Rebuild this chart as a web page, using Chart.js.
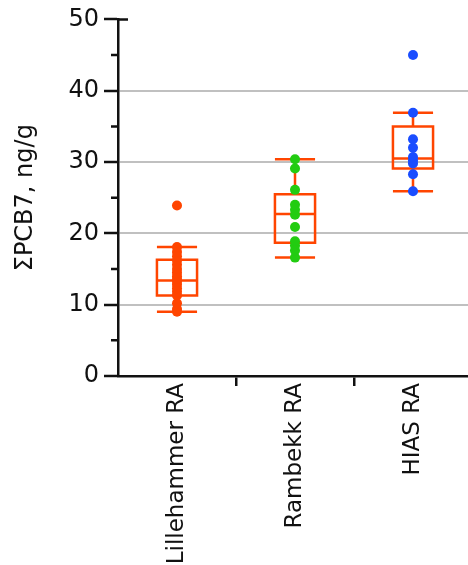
<!DOCTYPE html>
<html>
<head>
<meta charset="utf-8">
<script src="https://cdn.jsdelivr.net/npm/chart.js@4"></script>
<style>
  html, body { margin: 0; padding: 0; background: #fff; overflow: hidden; }
  #wrap { width: 477px; height: 565px; }
</style>
</head>
<body>
<div id="wrap"><canvas id="chart" width="477" height="565"></canvas></div>
<script>
const categories = ["Lillehammer RA", "Rambekk RA", "HIAS RA"];

// individual samples, ng/g
const lillehammer = [9.0, 9.4, 10.2, 11.3, 11.8, 12.3, 12.8, 13.2, 13.6, 14.0, 14.5, 15.0, 15.6, 16.2, 16.8, 17.4, 18.1, 23.9];
const rambekk = [16.6, 17.6, 18.3, 18.9, 20.9, 22.6, 23.3, 24.0, 26.1, 29.1, 30.4];
const hias = [25.9, 28.3, 29.8, 30.2, 30.7, 32.0, 33.2, 36.9, 45.0];

// box statistics per category
const whiskerLow = [9.0, 16.6, 25.9];
const quartile1 = [11.3, 18.7, 29.1];
const medians = [13.4, 22.7, 30.5];
const quartile3 = [16.3, 25.5, 35.0];
const whiskerHigh = [18.1, 30.4, 36.9];

const yMin = 0;
const yMax = 50;
const yStep = 10;
const minorTicks = [5, 15, 25, 35, 45];

const boxColor = "#ff4500";
const pointColors = ["#ff4500", "#22cc11", "#1a4dff"];
const axisColor = "#111";
const fontFamily = "'DejaVu Sans', sans-serif";

const toPoints = (vals, i) => vals.map((v) => ({ x: categories[i], y: v }));

const boxPlugin = {
  id: "boxes",
  beforeDatasetsDraw(chart) {
    const { ctx, scales: { x, y } } = chart;
    const half = (x.getPixelForValue(1) - x.getPixelForValue(0)) * 0.17;
    const py = (v) => y.getPixelForValue(v);
    ctx.save();
    ctx.strokeStyle = boxColor;
    ctx.lineWidth = 2.5;
    categories.forEach((c, i) => {
      const cx = x.getPixelForValue(i);
      ctx.beginPath();
      ctx.rect(cx - half, py(quartile3[i]), 2 * half, py(quartile1[i]) - py(quartile3[i]));
      ctx.moveTo(cx - half, py(medians[i]));
      ctx.lineTo(cx + half, py(medians[i]));
      ctx.moveTo(cx, py(quartile3[i]));
      ctx.lineTo(cx, py(whiskerHigh[i]));
      ctx.moveTo(cx, py(quartile1[i]));
      ctx.lineTo(cx, py(whiskerLow[i]));
      ctx.moveTo(cx - half, py(whiskerHigh[i]));
      ctx.lineTo(cx + half, py(whiskerHigh[i]));
      ctx.moveTo(cx - half, py(whiskerLow[i]));
      ctx.lineTo(cx + half, py(whiskerLow[i]));
      ctx.stroke();
    });
    ctx.restore();
  },
  afterDraw(chart) {
    const { ctx, scales: { y } } = chart;
    const ax = y.right;
    ctx.save();
    ctx.strokeStyle = axisColor;
    ctx.lineWidth = 2.5;
    ctx.beginPath();
    minorTicks.forEach((v) => {
      const p = y.getPixelForValue(v);
      ctx.moveTo(ax - 7, p);
      ctx.lineTo(ax, p);
    });
    const top = y.getPixelForValue(yMax);
    ctx.moveTo(ax, top);
    ctx.lineTo(ax + 10, top);
    ctx.stroke();
    ctx.restore();
  }
};

new Chart(document.getElementById("chart"), {
  type: "line",
  data: {
    labels: categories,
    datasets: [lillehammer, rambekk, hias].map((vals, i) => ({
      data: toPoints(vals, i),
      showLine: false,
      pointRadius: 5,
      pointBorderWidth: 0,
      pointBackgroundColor: pointColors[i],
      pointBorderColor: pointColors[i]
    }))
  },
  options: {
    responsive: false,
    animation: false,
    layout: { padding: { top: 17, right: 0, left: 0, bottom: 0 } },
    plugins: { legend: { display: false }, tooltip: { enabled: false } },
    scales: {
      x: {
        type: "category",
        offset: true,
        afterFit: (s) => { s.height = 189; },
        border: { display: true, color: axisColor, width: 2.5 },
        grid: {
          offset: true,
          drawOnChartArea: false,
          tickLength: 10,
          lineWidth: 2.5,
          color: (c) => (c.index === 0 ? "rgba(0,0,0,0)" : axisColor),
          tickColor: (c) => (c.index === 0 ? "rgba(0,0,0,0)" : axisColor)
        },
        ticks: {
          minRotation: 90,
          maxRotation: 90,
          padding: -3,
          color: "#111",
          font: { family: fontFamily, size: 23 }
        }
      },
      y: {
        min: yMin,
        max: yMax,
        afterFit: (s) => { s.width = 118; },
        border: { display: true, color: axisColor, width: 2.5 },
        grid: {
          lineWidth: 2,
          tickLength: 14,
          tickWidth: 2.5,
          color: (c) => (c.tick && (c.tick.value === yMin || c.tick.value === yMax) ? "rgba(0,0,0,0)" : "#c0c0c0"),
          tickColor: axisColor
        },
        ticks: {
          stepSize: yStep,
          padding: 5,
          color: "#111",
          font: { family: fontFamily, size: 24 }
        },
        title: {
          display: true,
          text: "ΣPCB7, ng/g",
          color: "#111",
          padding: { top: 11, bottom: 0 },
          font: { family: fontFamily, size: 24 }
        }
      }
    }
  },
  plugins: [boxPlugin]
});
</script>
</body>
</html>
